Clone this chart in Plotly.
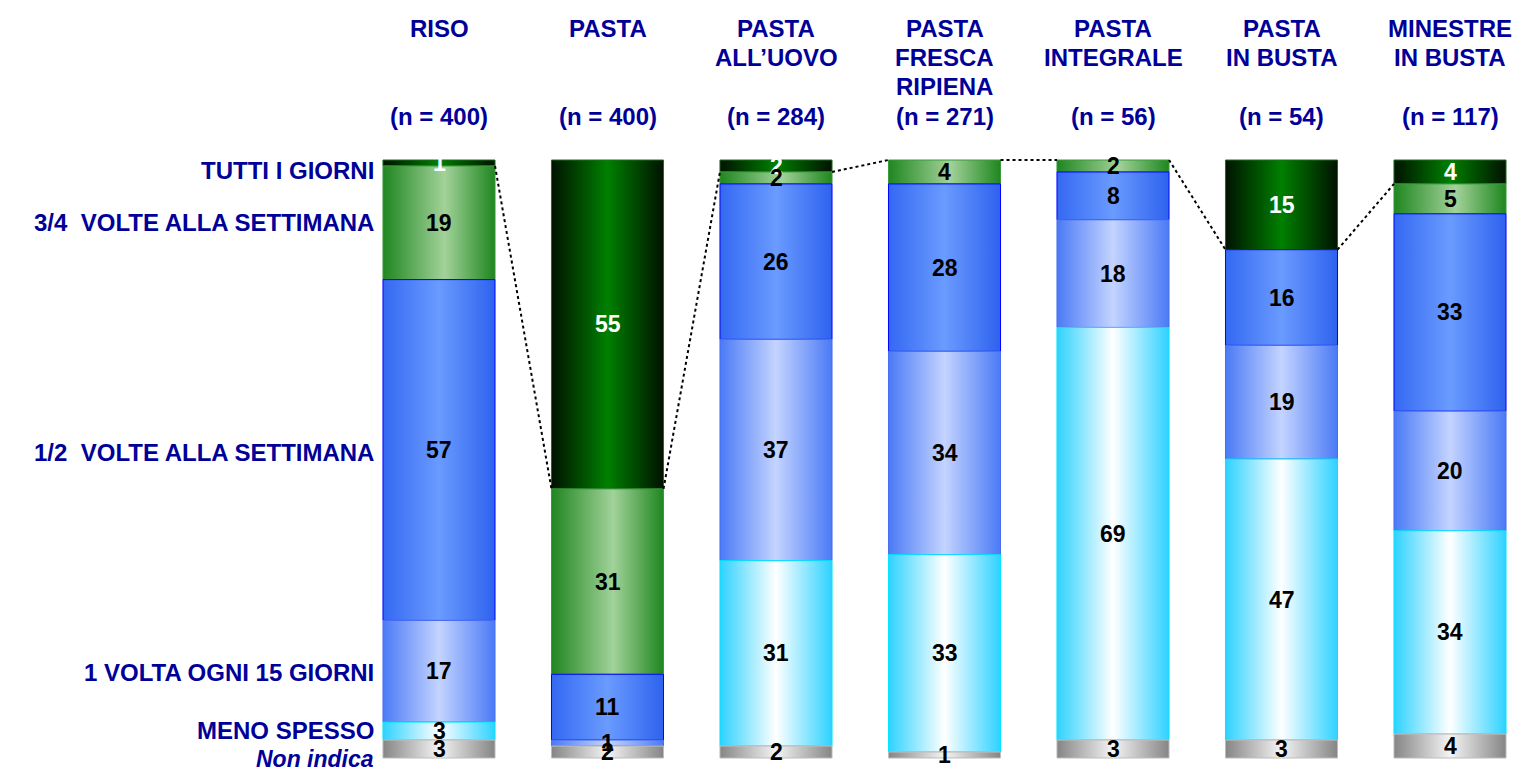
import plotly.graph_objects as go

# ---------------- data ----------------
products = ["RISO", "PASTA", "PASTA<br>ALL’UOVO", "PASTA<br>FRESCA<br>RIPIENA",
            "PASTA<br>INTEGRALE", "PASTA<br>IN BUSTA", "MINESTRE<br>IN BUSTA"]
sample_sizes = [400, 400, 284, 271, 56, 54, 117]
frequency_labels = ["TUTTI I GIORNI", "3/4  VOLTE ALLA SETTIMANA", "1/2  VOLTE ALLA SETTIMANA",
                    "1 VOLTA OGNI 15 GIORNI", "MENO SPESSO", "<i>Non indica</i>"]
tutti_i_giorni = [1, 55, 2, 0, 0, 15, 4]
volte_3_4 = [19, 31, 2, 4, 2, 0, 5]
volte_1_2 = [57, 11, 26, 28, 8, 16, 33]
ogni_15_giorni = [17, 1, 37, 34, 18, 19, 20]
meno_spesso = [3, 0, 31, 33, 69, 47, 34]
non_indica = [3, 2, 2, 1, 3, 3, 4]

series = [tutti_i_giorni, volte_3_4, volte_1_2, ogni_15_giorni, meno_spesso, non_indica]

# ---------------- styles ----------------
FONT = "Arial, Liberation Sans, sans-serif"
NAVY = "#000099"
gradients = [
    [[0, "#001200"], [0.5, "#008000"], [1, "#001200"]],
    [[0, "#1f861f"], [0.55, "#a2d29a"], [1, "#1f861f"]],
    [[0, "#3468f2"], [0.5, "#6a9bff"], [1, "#2e62ee"]],
    [[0, "#4a7af5"], [0.5, "#c4d4ff"], [1, "#4a7af5"]],
    [[0, "#2ed2ff"], [0.5, "#ffffff"], [1, "#2ed2ff"]],
    [[0, "#858585"], [0.5, "#f4f4f4"], [1, "#858585"]],
]
outlines = ["#1e6e1e", "#3a9a3a", "#0000ff", "#4a6cf5", "#00e5ff", "#bdbdbd"]
label_colors = ["white", "black", "black", "black", "black", "black"]
BAR_W = 0.665
SIZE = 24

fig = go.Figure()

n_prod = len(products)
for i in range(n_prod):
    top = 100.0
    for s, vals in enumerate(series):
        v = vals[i]
        if v <= 0:
            continue
        bottom = top - v
        xl, xr = i - BAR_W / 2, i + BAR_W / 2
        fig.add_trace(go.Scatter(
            x=[xl, xr, xr, xl, xl], y=[bottom, bottom, top, top, bottom],
            mode="lines", fill="toself",
            fillgradient=dict(type="horizontal", colorscale=gradients[s], start=xl, stop=xr),
            line=dict(color=outlines[s], width=1),
            hoverinfo="skip", showlegend=False))
        fig.add_annotation(x=i, y=(top + bottom) / 2, text=f"<b>{v}</b>", showarrow=False,
                           font=dict(family=FONT, size=SIZE - 1, color=label_colors[s]),
                           xref="x", yref="y")
        top = bottom

# dotted series line for "tutti i giorni"
lx, ly = [], []
for i in range(n_prod - 1):
    lx += [i + BAR_W / 2, i + 1 - BAR_W / 2, None]
    ly += [100 - tutti_i_giorni[i], 100 - tutti_i_giorni[i + 1], None]
fig.add_trace(go.Scatter(x=lx, y=ly, mode="lines",
                         line=dict(color="black", width=2, dash="dot"),
                         hoverinfo="skip", showlegend=False))

# headers (one annotation per line)
for i, (p, n) in enumerate(zip(products, sample_sizes)):
    for k, line in enumerate(p.split("<br>")):
        fig.add_annotation(x=i, xref="x", y=1 - (28 + 29.5 * k) / 772, yref="paper",
                           yanchor="middle", text=f"<b>{line}</b>", showarrow=False,
                           font=dict(family=FONT, size=SIZE, color=NAVY))
    fig.add_annotation(x=i, xref="x", y=1 - 117 / 772, yref="paper", yanchor="middle",
                       text=f"<b>(n = {n})</b>", showarrow=False,
                       font=dict(family=FONT, size=SIZE, color=NAVY))

# left category labels
label_pix_y = [170, 222, 452, 672, 730, 759]
label_sizes = [SIZE, SIZE, SIZE, SIZE, SIZE, SIZE - 1]
for lab, py, fs in zip(frequency_labels, label_pix_y, label_sizes):
    fig.add_annotation(x=376 / 1519, xref="paper", xanchor="right",
                       y=1 - py / 772, yref="paper", yanchor="middle",
                       text=f"<b>{lab}</b>", showarrow=False,
                       font=dict(family=FONT, size=fs, color=NAVY))

PX = 168.5
fig.update_layout(
    width=1519, height=772,
    margin=dict(l=0, r=0, t=0, b=0),
    paper_bgcolor="white", plot_bgcolor="white",
    xaxis=dict(range=[-439 / PX, (1519 - 439) / PX], visible=False, fixedrange=True),
    yaxis=dict(range=[-(772 - 758) / 5.98, -(772 - 758) / 5.98 + 772 / 5.98],
               visible=False, fixedrange=True),
    showlegend=False,
)

fig.write_html("out.html")
